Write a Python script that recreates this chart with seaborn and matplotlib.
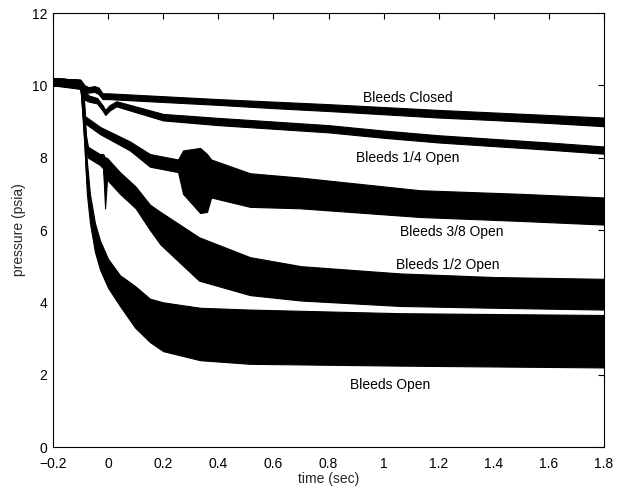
import numpy as np
import pandas as pd
import matplotlib
matplotlib.use("Agg")
import matplotlib.pyplot as plt
from matplotlib.ticker import FuncFormatter
import seaborn as sns

# Pressure traces: for each bleed setting, time (s) with the lower and
# upper edge of the recorded (noisy) pressure band, in psia.
closed_t = [-0.2, -0.10, -0.085, -0.07, -0.05, -0.035, -0.02, 0.0, 0.2, 0.4, 0.6, 0.8, 1.0, 1.2, 1.4, 1.6, 1.8]
closed_lo = [10.0, 9.95, 9.80, 9.80, 9.82, 9.76, 9.62, 9.62, 9.54, 9.46, 9.37, 9.29, 9.20, 9.11, 9.04, 8.96, 8.87]
closed_hi = [10.2, 10.15, 10.0, 9.95, 9.98, 9.94, 9.78, 9.78, 9.70, 9.62, 9.55, 9.48, 9.40, 9.32, 9.25, 9.18, 9.11]

quarter_t = [-0.2, -0.10, -0.085, -0.07, -0.04, -0.02, -0.01, 0.005, 0.03, 0.06, 0.2, 0.4, 0.6, 0.8, 1.0, 1.2, 1.4, 1.6, 1.8]
quarter_lo = [10.0, 9.95, 9.60, 9.55, 9.50, 9.30, 9.18, 9.30, 9.42, 9.35, 9.03, 8.90, 8.80, 8.70, 8.55, 8.42, 8.32, 8.22, 8.11]
quarter_hi = [10.2, 10.15, 9.85, 9.72, 9.65, 9.45, 9.32, 9.45, 9.56, 9.50, 9.21, 9.10, 9.00, 8.90, 8.75, 8.62, 8.52, 8.42, 8.31]

three8_t = [-0.2, -0.10, -0.09, -0.084, -0.029, 0.079, 0.152, 0.254, 0.272, 0.334, 0.359, 0.374, 0.515, 0.697, 1.132, 1.5, 1.8]
three8_lo = [10.0, 9.95, 9.30, 8.95, 8.65, 8.20, 7.75, 7.60, 7.00, 6.47, 6.50, 6.90, 6.64, 6.60, 6.36, 6.25, 6.15]
three8_hi = [10.2, 10.15, 9.90, 9.15, 8.85, 8.45, 8.10, 7.95, 8.20, 8.27, 8.10, 7.95, 7.57, 7.45, 7.10, 7.00, 6.90]

half_t = [-0.2, -0.10, -0.09, -0.08, -0.073, -0.03, -0.018, -0.011, -0.004, 0.007, 0.043, 0.1, 0.152, 0.19, 0.33, 0.515, 0.7, 1.06, 1.4, 1.8]
half_lo = [10.0, 9.95, 9.00, 8.20, 8.00, 7.80, 7.70, 6.60, 7.40, 7.30, 7.00, 6.60, 6.00, 5.60, 4.60, 4.20, 4.05, 3.90, 3.85, 3.80]
half_hi = [10.2, 10.15, 9.80, 8.60, 8.30, 8.10, 8.10, 8.00, 8.00, 7.90, 7.60, 7.20, 6.70, 6.50, 5.80, 5.25, 5.00, 4.80, 4.70, 4.65]

open_t = [-0.2, -0.10, -0.095, -0.085, -0.077, -0.066, -0.048, -0.029, 0.0, 0.043, 0.098, 0.152, 0.2, 0.334, 0.515, 1.06, 1.8]
open_lo = [10.0, 9.90, 9.40, 8.20, 7.00, 6.20, 5.40, 4.90, 4.40, 3.90, 3.30, 2.90, 2.65, 2.40, 2.30, 2.25, 2.20]
open_hi = [10.2, 10.15, 10.0, 9.00, 7.90, 7.00, 6.20, 5.70, 5.20, 4.75, 4.45, 4.10, 4.00, 3.85, 3.80, 3.70, 3.65]

trace_names = ["Bleeds Closed", "Bleeds 1/4 Open", "Bleeds 3/8 Open", "Bleeds 1/2 Open", "Bleeds Open"]
label_t = [1.089, 1.089, 1.248, 1.234, 1.023]
label_p = [9.65, 7.99, 5.95, 5.03, 1.72]

x_ticks = [-0.2, 0, 0.2, 0.4, 0.6, 0.8, 1.0, 1.2, 1.4, 1.6, 1.8]
y_ticks = [0, 2, 4, 6, 8, 10, 12]

# Long-form table: two rows (band edges) per time stamp and trace
rows = []
series = [(closed_t, closed_lo, closed_hi), (quarter_t, quarter_lo, quarter_hi),
          (three8_t, three8_lo, three8_hi), (half_t, half_lo, half_hi),
          (open_t, open_lo, open_hi)]
for name, (ts, lo, hi) in zip(trace_names, series):
    for t, a, b in zip(ts, lo, hi):
        rows.append({"time": t, "pressure": a, "trace": name})
        rows.append({"time": t, "pressure": b, "trace": name})
df = pd.DataFrame(rows)

sns.set_style("white")
plt.rcParams["font.family"] = ["Liberation Sans", "DejaVu Sans"]
plt.rcParams["axes.unicode_minus"] = True

fig = plt.figure(figsize=(6.28, 4.93), dpi=100)
ax = fig.add_axes([0.0844, 0.0933, 0.8774, 0.8803])

sns.lineplot(
    data=df, x="time", y="pressure", hue="trace", hue_order=trace_names,
    palette=["black"] * len(trace_names), estimator="mean",
    errorbar=lambda v: (v.min(), v.max()),
    err_kws={"alpha": 1.0, "linewidth": 0.8, "edgecolor": "black"},
    linewidth=1.2, legend=False, ax=ax,
)

for name, t, p in zip(trace_names, label_t, label_p):
    ax.text(t, p, name, ha="center", va="center", fontsize=10, color="black")

ax.set_xlim(-0.2, 1.8)
ax.set_ylim(0, 12)
ax.set_xticks(x_ticks)
ax.set_yticks(y_ticks)
ax.xaxis.set_major_formatter(FuncFormatter(lambda v, _: ("%g" % round(v, 3)).replace("-", "\u2212")))
ax.yaxis.set_major_formatter(FuncFormatter(lambda v, _: "%g" % v))
ax.tick_params(direction="in", length=4, width=0.8, top=True, right=True,
               labelsize=10, colors="black")
ax.tick_params(axis="x", pad=7)
ax.tick_params(axis="y", pad=4)
for s in ax.spines.values():
    s.set_visible(True)
    s.set_color("black")
    s.set_linewidth(0.8)
ax.set_xlabel("time (sec)", fontsize=10, labelpad=1)
ax.set_ylabel("pressure (psia)", fontsize=10, labelpad=4)

fig.savefig("out.png", dpi=100, facecolor="white")
